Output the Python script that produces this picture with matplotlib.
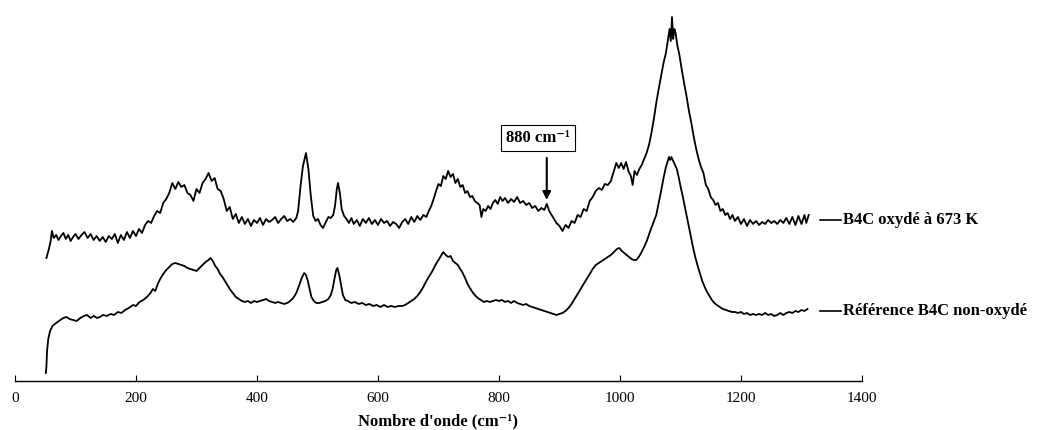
import matplotlib
matplotlib.use("Agg")
import matplotlib.pyplot as plt

plt.rcParams["font.family"] = ["Liberation Serif", "DejaVu Serif"]
plt.rcParams["mathtext.fontset"] = "stix"

# spectre B4C oxydé à 673 K (intensité arbitraire)
x_ox = [52, 56, 59, 61, 64, 68, 72, 76, 80, 84, 88, 92, 96, 100, 105, 110, 115, 120,
        125, 130, 135, 140, 145, 150, 155, 160, 165, 170, 175, 180, 185, 190, 195, 200,
        205, 210, 215, 220, 225, 230, 235, 240, 245, 250, 255, 260, 265, 270, 275, 280,
        285, 290, 295, 300, 305, 310, 315, 320, 325, 330, 335, 340, 345, 350, 355, 360,
        365, 370, 375, 380, 385, 390, 395, 400, 405, 410, 415, 420, 425, 430, 435, 440,
        445, 450, 455, 460, 465, 468, 472, 476, 481, 485, 489, 493, 497, 501, 505, 509,
        513, 518, 522, 526, 529, 532, 534, 537, 540, 544, 548, 552, 556, 560, 565, 570,
        575, 580, 585, 590, 595, 600, 605, 610, 615, 620, 625, 630, 635, 640, 645, 650,
        655, 660, 665, 670, 675, 680, 684, 688, 692, 696, 700, 704, 708, 712, 716, 720,
        724, 728, 732, 736, 740, 744, 748, 752, 756, 760, 764, 768, 771, 774, 778, 782,
        786, 790, 794, 798, 802, 806, 810, 815, 820, 825, 830, 835, 840, 845, 850, 855,
        860, 865, 870, 875, 879, 883, 887, 891, 895, 900, 905, 910, 915, 920, 925, 930,
        935, 940, 945, 950, 955, 960, 965, 970, 975, 980, 985, 990, 994, 998, 1002, 1006,
        1010, 1014, 1018, 1021, 1024, 1028, 1032, 1036, 1040, 1044, 1048, 1052, 1056,
        1060, 1064, 1068, 1072, 1076, 1079, 1082, 1084, 1086, 1088, 1090, 1092, 1095,
        1098, 1102, 1106, 1110, 1114, 1118, 1122, 1126, 1130, 1134, 1138, 1142, 1146,
        1150, 1154, 1158, 1162, 1166, 1170, 1174, 1178, 1182, 1186, 1190, 1195, 1200,
        1205, 1210, 1215, 1220, 1225, 1230, 1235, 1240, 1245, 1250, 1255, 1260, 1265,
        1270, 1275, 1280, 1285, 1290, 1295, 1300, 1305, 1308, 1312]
y_ox = [123, 132, 140, 150, 143, 146, 141, 145, 148, 142, 146, 140, 144, 147, 142, 146, 149, 143,
        147, 141, 145, 140, 144, 139, 145, 142, 147, 138, 146, 141, 149, 143, 150, 145,
        152, 148, 156, 160, 158, 165, 170, 168, 178, 182, 188, 198, 192, 199, 194, 196,
        188, 186, 180, 192, 188, 198, 202, 208, 200, 203, 192, 190, 182, 170, 174, 162,
        167, 158, 164, 157, 162, 155, 161, 158, 163, 156, 162, 159, 161, 164, 158, 162,
        165, 160, 162, 159, 163, 170, 195, 215, 228, 212, 185, 165, 160, 162, 156, 153,
        158, 164, 163, 166, 175, 192, 198, 188, 172, 165, 162, 158, 163, 157, 161, 155,
        162, 158, 163, 157, 161, 156, 162, 158, 160, 155, 159, 157, 153, 159, 162, 157,
        164, 159, 165, 161, 166, 164, 170, 175, 182, 190, 197, 195, 205, 202, 210, 204,
        207, 198, 202, 194, 196, 188, 190, 184, 185, 180, 178, 176, 164, 172, 170, 175,
        172, 178, 181, 177, 184, 180, 183, 178, 182, 179, 184, 178, 180, 176, 178, 173,
        175, 170, 173, 171, 177, 170, 166, 162, 158, 155, 150, 156, 153, 160, 158, 166,
        164, 172, 170, 180, 184, 190, 193, 191, 197, 196, 200, 210, 218, 213, 218, 212,
        219, 210, 205, 196, 210, 206, 212, 216, 222, 228, 236, 248, 262,
        278, 292, 305, 318, 328, 340, 352, 340, 364, 342, 352, 348, 335,
        327, 312, 298, 285, 270, 258, 244, 232, 222, 214, 208, 196, 192,
        184, 181, 176, 178, 170, 172, 166, 168, 162, 166, 160, 164, 157,
        162, 155, 161, 157, 160, 156, 159, 157, 161, 158, 160, 157, 161,
        158, 163, 157, 164, 156, 165, 157, 166, 158, 166]

# spectre de référence B4C non-oxydé
x_ref = [51, 52, 53, 55, 58, 62, 68, 75, 80, 85, 90, 96, 102, 108, 114, 119, 125, 130,
         136, 140, 146, 152, 158, 164, 170, 176, 182, 188, 195, 200, 206, 212, 218, 224,
         228, 232, 236, 240, 245, 250, 255, 260, 265, 270, 275, 280, 285, 290, 295, 300,
         305, 310, 315, 320, 323, 327, 331, 335, 339, 343, 347, 351, 355, 360, 365, 370,
         375, 380, 385, 390, 395, 400, 405, 410, 415, 420, 425, 430, 435, 440, 445, 450,
         455, 460, 465, 470, 474, 478, 481, 484, 487, 490, 494, 498, 503, 508, 513, 518,
         522, 525, 528, 531, 533, 536, 539, 542, 546, 550, 556, 562, 568, 574, 580, 586,
         592, 598, 604, 610, 616, 622, 628, 634, 640, 645, 650, 655, 660, 665, 670, 675,
         680, 685, 690, 695, 700, 704, 708, 712, 716, 720, 724, 728, 732, 736, 740, 744,
         748, 752, 756, 760, 765, 770, 775, 780, 785, 790, 795, 800, 805, 810, 815, 820,
         825, 830, 835, 840, 845, 850, 855, 860, 865, 870, 875, 880, 885, 890, 895, 900,
         905, 910, 915, 920, 925, 930, 935, 940, 945, 950, 955, 960, 965, 970, 975, 980,
         985, 990, 995, 999, 1003, 1007, 1011, 1015, 1019, 1023, 1027, 1031, 1035, 1040,
         1045, 1050, 1055, 1060, 1064, 1068, 1072, 1076, 1079, 1081, 1083, 1085, 1088,
         1091, 1094, 1097, 1100, 1104, 1108, 1112, 1116, 1120, 1124, 1128, 1132, 1136,
         1140, 1144, 1148, 1152, 1156, 1160, 1165, 1170, 1175, 1180, 1185, 1190, 1195,
         1200, 1205, 1210, 1215, 1220, 1225, 1230, 1235, 1240, 1245, 1250, 1255, 1260,
         1265, 1270, 1275, 1280, 1285, 1290, 1295, 1300, 1305, 1310]
y_ref = [8, 15, 30, 42, 50, 55, 58, 61, 63, 64, 62, 61, 60, 63, 65, 66, 63, 65,
         63, 64, 66, 65, 67, 66, 69, 68, 71, 73, 76, 75, 79, 81, 84, 88,
         92, 90, 97, 102, 107, 111, 114, 117, 118, 117, 116, 115, 113, 112, 111, 110,
         113, 116, 119, 121, 123, 120, 115, 112, 107, 104, 100, 96, 92, 88, 84, 82,
         80, 79, 80, 78, 80, 79, 80, 81, 82, 80, 79, 78, 79, 78, 77, 78,
         80, 83, 88, 96, 103, 108, 106, 100, 92, 84, 80, 78, 78, 79, 80, 82,
         86, 92, 102, 111, 113, 106, 96, 86, 81, 80, 78, 79, 77, 78, 76, 77,
         75, 76, 74, 76, 74, 75, 74, 75, 75, 76, 78, 80, 82, 85, 89, 94,
         100, 105, 110, 116, 121, 125, 129, 126, 124, 125, 120, 118, 116, 112, 108, 103,
         97, 93, 89, 86, 83, 81, 79, 80, 79, 80, 81, 80, 81, 79, 80, 78,
         80, 78, 77, 76, 77, 75, 74, 73, 72, 71, 70, 69, 68, 67, 66, 67,
         68, 70, 73, 77, 82, 87, 92, 97, 102, 107, 112, 116, 118, 120, 122, 124,
         126, 129, 132, 133, 130, 128, 126, 124, 122, 121, 121, 124, 128, 134,
         141, 150, 158, 166, 178, 190, 203, 214, 220, 224, 221, 224, 220,
         216, 212, 204, 195, 184, 172, 160, 148, 136, 125, 116, 108, 100,
         94, 89, 85, 81, 78, 76, 74, 72, 71, 70, 69, 69, 68,
         69, 67, 68, 66, 67, 66, 67, 66, 68, 66, 67, 65, 66,
         68, 66, 68, 69, 68, 70, 69, 71, 70, 72]

labels = ["B4C oxydé à 673 K", "Référence B4C non-oxydé"]
label_y = [161, 70]

fig = plt.figure(figsize=(10.41, 4.30), dpi=100)
ax = fig.add_axes([0.0144, 0.114, 0.8136, 0.886])

ax.plot(x_ox, y_ox, color="black", lw=1.3)
ax.plot(x_ref, y_ref, color="black", lw=1.3)

for lab, yl in zip(labels, label_y):
    ax.plot([1331, 1366], [yl, yl], color="black", lw=1.2, clip_on=False)
    ax.text(1368, yl, lab, fontsize=12, fontweight="bold", va="center", ha="left",
            clip_on=False)

ax.text(864, 243, "880 cm⁻¹", fontsize=12, fontweight="bold", ha="center", va="center",
        bbox=dict(boxstyle="square,pad=0.3", fc="white", ec="black", lw=0.8))
ax.annotate("", xy=(879, 181), xytext=(879, 223),
            arrowprops=dict(arrowstyle="-|>", color="black", lw=1.5,
                            shrinkA=0, shrinkB=0, mutation_scale=12))

ax.set_xlim(0, 1400)
ax.set_ylim(0, 381)
ax.set_xticks(range(0, 1401, 200))
ax.tick_params(axis="x", direction="in", length=4, labelsize=11, pad=8)
ax.set_yticks([])
for s in ["top", "right", "left"]:
    ax.spines[s].set_visible(False)
ax.spines["bottom"].set_linewidth(1.0)
ax.set_xlabel("Nombre d'onde (cm⁻¹)", fontsize=12, fontweight="bold", labelpad=6)

fig.savefig("out.png", dpi=100)
